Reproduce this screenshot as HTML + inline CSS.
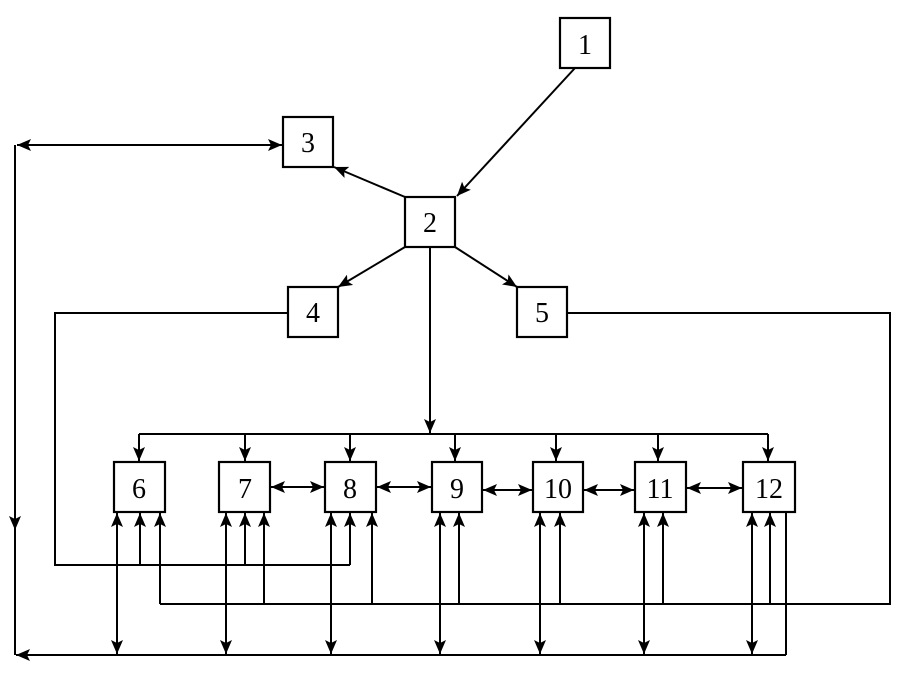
<!DOCTYPE html>
<html><head><meta charset="utf-8"><style>html,body{margin:0;padding:0;background:#fff}svg{display:block}</style></head><body>
<svg width="909" height="675" viewBox="0 0 909 675" xmlns="http://www.w3.org/2000/svg" font-family="'Liberation Serif',serif">
<defs>
<marker id="a" viewBox="0 0 14 12" refX="14" refY="6" markerWidth="14" markerHeight="12" markerUnits="userSpaceOnUse" orient="auto-start-reverse"><path d="M0,0 L14,6 L0,12 L3,6 z" fill="#000"/></marker>
</defs>
<g fill="none" stroke="#000" stroke-width="2.2">
<rect x="560" y="18" width="50" height="50"/>
<rect x="283" y="117" width="50" height="50"/>
<rect x="405" y="197" width="50" height="50"/>
<rect x="288" y="287" width="50" height="50"/>
<rect x="517" y="287" width="50" height="50"/>
<rect x="114" y="462" width="51" height="50"/>
<rect x="219" y="462" width="51" height="50"/>
<rect x="325" y="462" width="51" height="50"/>
<rect x="432" y="462" width="50" height="50"/>
<rect x="533" y="462" width="50" height="50"/>
<rect x="635" y="462" width="51" height="50"/>
<rect x="743" y="462" width="52" height="50"/>
</g>
<g fill="none" stroke="#000" stroke-width="2">
<line x1="575" y1="68" x2="457" y2="196" marker-end="url(#a)"/>
<line x1="405" y1="197" x2="334" y2="167" marker-end="url(#a)"/>
<line x1="405" y1="247" x2="338" y2="287" marker-end="url(#a)"/>
<line x1="455" y1="247" x2="517" y2="287" marker-end="url(#a)"/>
<line x1="430" y1="247" x2="430" y2="433" marker-end="url(#a)"/>
<line x1="17" y1="145" x2="282" y2="145" marker-start="url(#a)" marker-end="url(#a)"/>
<line x1="15" y1="145" x2="15" y2="530" marker-end="url(#a)"/>
<line x1="15" y1="525" x2="15" y2="655"/>
<line x1="786" y1="655" x2="16" y2="655" marker-end="url(#a)"/>
<line x1="786" y1="512" x2="786" y2="655"/>
<line x1="139" y1="434" x2="768" y2="434"/>
<line x1="139" y1="434" x2="139" y2="461" marker-end="url(#a)"/>
<line x1="245" y1="434" x2="245" y2="461" marker-end="url(#a)"/>
<line x1="350" y1="434" x2="350" y2="461" marker-end="url(#a)"/>
<line x1="455" y1="434" x2="455" y2="461" marker-end="url(#a)"/>
<line x1="556" y1="434" x2="556" y2="461" marker-end="url(#a)"/>
<line x1="658" y1="434" x2="658" y2="461" marker-end="url(#a)"/>
<line x1="768" y1="434" x2="768" y2="461" marker-end="url(#a)"/>
<line x1="271" y1="487" x2="324" y2="487" marker-start="url(#a)" marker-end="url(#a)"/>
<line x1="377" y1="487" x2="431" y2="487" marker-start="url(#a)" marker-end="url(#a)"/>
<line x1="483" y1="490" x2="532" y2="490" marker-start="url(#a)" marker-end="url(#a)"/>
<line x1="584" y1="490" x2="634" y2="490" marker-start="url(#a)" marker-end="url(#a)"/>
<line x1="687" y1="488" x2="742" y2="488" marker-start="url(#a)" marker-end="url(#a)"/>
<polyline points="288,313 55,313 55,565 350,565"/>
<line x1="350" y1="565" x2="350" y2="513" marker-end="url(#a)"/>
<line x1="140" y1="565" x2="140" y2="513" marker-end="url(#a)"/>
<line x1="245" y1="565" x2="245" y2="513" marker-end="url(#a)"/>
<polyline points="567,313 890,313 890,604 160,604"/>
<line x1="160" y1="604" x2="160" y2="513" marker-end="url(#a)"/>
<line x1="264" y1="604" x2="264" y2="513" marker-end="url(#a)"/>
<line x1="372" y1="604" x2="372" y2="513" marker-end="url(#a)"/>
<line x1="459" y1="604" x2="459" y2="513" marker-end="url(#a)"/>
<line x1="560" y1="604" x2="560" y2="513" marker-end="url(#a)"/>
<line x1="663" y1="604" x2="663" y2="513" marker-end="url(#a)"/>
<line x1="770" y1="604" x2="770" y2="513" marker-end="url(#a)"/>
<line x1="117" y1="513" x2="117" y2="654" marker-start="url(#a)" marker-end="url(#a)"/>
<line x1="226" y1="513" x2="226" y2="654" marker-start="url(#a)" marker-end="url(#a)"/>
<line x1="331" y1="513" x2="331" y2="654" marker-start="url(#a)" marker-end="url(#a)"/>
<line x1="440" y1="513" x2="440" y2="654" marker-start="url(#a)" marker-end="url(#a)"/>
<line x1="540" y1="513" x2="540" y2="654" marker-start="url(#a)" marker-end="url(#a)"/>
<line x1="644" y1="513" x2="644" y2="654" marker-start="url(#a)" marker-end="url(#a)"/>
<line x1="752" y1="513" x2="752" y2="654" marker-start="url(#a)" marker-end="url(#a)"/>
</g>
<g font-size="28" text-anchor="middle" fill="#000">
<text x="585" y="54">1</text>
<text x="308" y="152">3</text>
<text x="430" y="232">2</text>
<text x="313" y="322">4</text>
<text x="542" y="322">5</text>
<text x="139" y="498">6</text>
<text x="245" y="498">7</text>
<text x="350" y="498">8</text>
<text x="457" y="498">9</text>
<text x="558" y="498">10</text>
<text x="660" y="498">11</text>
<text x="769" y="498">12</text>
</g>
</svg>
</body></html>
